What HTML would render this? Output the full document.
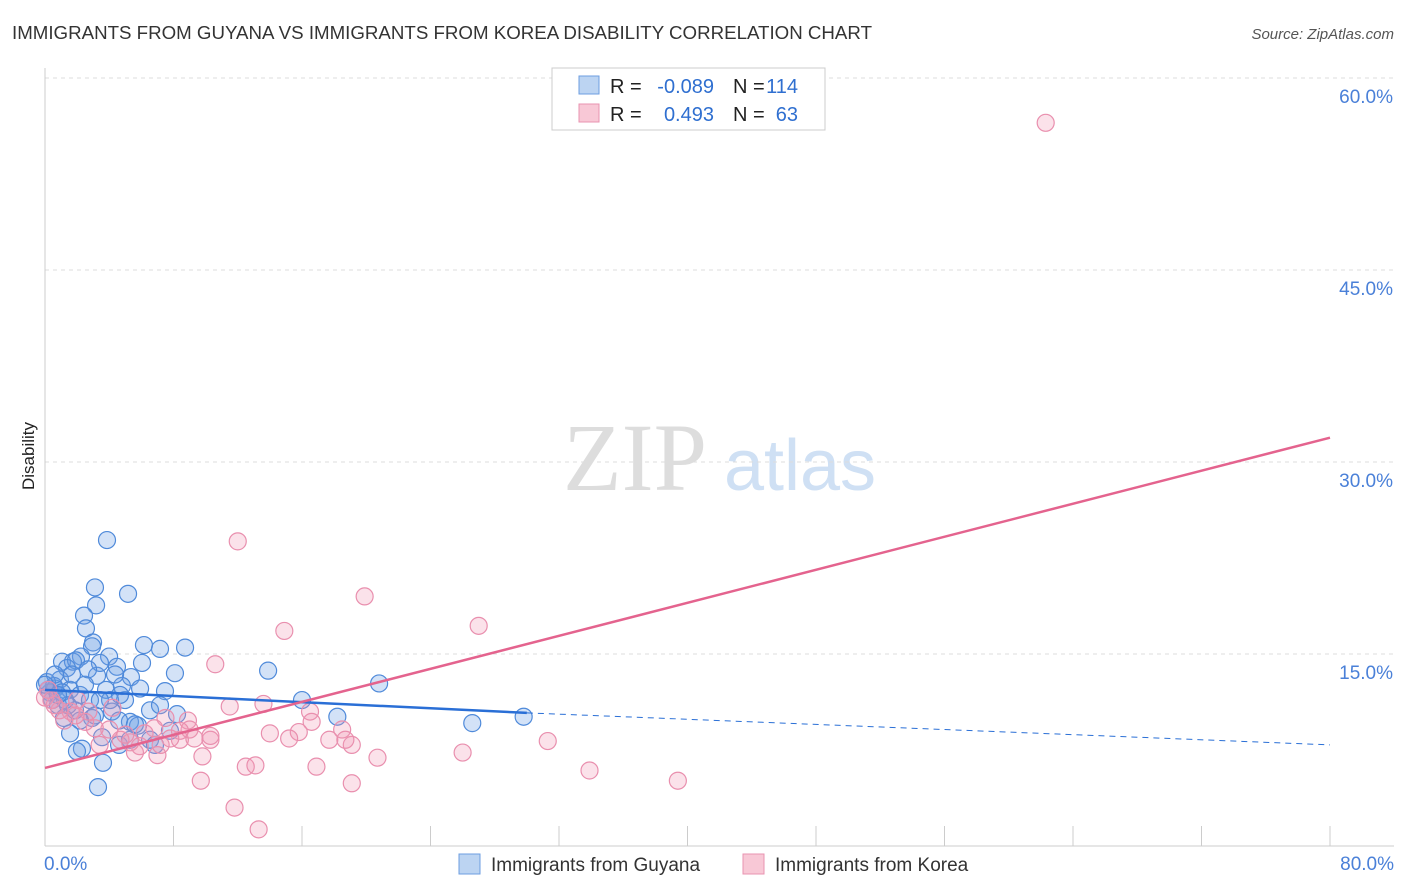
<!DOCTYPE html>
<html><head><meta charset="utf-8"><style>
body{margin:0;background:#fff;font-family:"Liberation Sans",sans-serif;}
svg{display:block}
</style></head><body>
<svg id="chart" width="1406" height="892" xmlns="http://www.w3.org/2000/svg">
<text x="12" y="39" font-size="18" fill="#333" textLength="860" lengthAdjust="spacingAndGlyphs">IMMIGRANTS FROM GUYANA VS IMMIGRANTS FROM KOREA DISABILITY CORRELATION CHART</text>
<text x="1394" y="39" font-size="15" fill="#555" font-style="italic" text-anchor="end">Source: ZipAtlas.com</text>
<text x="0" y="0" transform="translate(34,456) rotate(-90)" font-size="17" fill="#222" text-anchor="middle">Disability</text>
<g><text x="635" y="490" font-size="96" fill="#ddd" font-family="Liberation Serif,serif" text-anchor="middle">ZIP</text><text x="800" y="490" font-size="72" fill="#cfe0f4" text-anchor="middle">atlas</text></g>
<g id="grid"></g><g id="axes"></g><g id="pts"></g><g id="trends"></g>
<g>
<rect x="552" y="68" width="273" height="62" fill="#fff" stroke="#ccc"/>
<rect x="579" y="76" width="20" height="18" fill="#bcd4f2" stroke="#6d9ee0"/>
<rect x="579" y="104" width="20" height="18" fill="#f8c8d6" stroke="#e993b0"/>
<g font-size="20" fill="#222">
<text x="610" y="93">R =</text><text x="714" y="93" text-anchor="end" fill="#2f6fd0">-0.089</text>
<text x="733" y="93">N =</text><text x="798" y="93" text-anchor="end" fill="#2f6fd0">114</text>
<text x="610" y="121">R =</text><text x="714" y="121" text-anchor="end" fill="#2f6fd0">0.493</text>
<text x="733" y="121">N =</text><text x="798" y="121" text-anchor="end" fill="#2f6fd0">63</text>
</g>
</g>
<g>
<rect x="459" y="854" width="21" height="20" fill="#bcd4f2" stroke="#6d9ee0"/>
<text x="491" y="871" font-size="19" fill="#333">Immigrants from Guyana</text>
<rect x="743" y="854" width="21" height="20" fill="#f8c8d6" stroke="#e993b0"/>
<text x="775" y="871" font-size="19" fill="#333">Immigrants from Korea</text>
</g>
</svg>
<script>
const yTicks=[15,30,45,60];
const yTickLabels=["15.0%","30.0%","45.0%","60.0%"];
const xTickLabels=["0.0%","80.0%"];
const guyanaX=[3.86,3.11,3.18,2.43,2.55,5.17,2.99,2.93,6.16,7.16,8.72,2.24,3.99,1.06,1.74,1.93,1.37,4.48,8.09,13.89,6.04,5.35,3.24,4.79,7.47,3.80,0.62,0.93,1.56,2.18,0.31,0.56,0.12,2.80,16.0,20.8,6.54,8.22,4.17,2.93,1.18,5.29,4.61,18.2,26.6,29.8,7.78,3.55,2.30,1.99,4.61,3.61,3.30,6.54,5.79,0.81,1.87,1.25,2.49,4.98,5.92,0.62,3.42,4.36,1.68,0.19,0.44,1.06,1.43,2.68,0.0,0.81,4.05,7.16,3.11,5.29,6.85,2.18,1.56,5.60,4.67,3.42];
const guyanaY=[23.9,20.2,18.8,18.0,17.0,19.7,15.9,15.6,15.7,15.4,15.5,14.8,14.8,14.4,14.4,14.5,13.9,14.0,13.5,13.7,14.3,13.2,13.3,12.5,12.1,12.2,12.3,13.0,12.2,11.8,12.0,12.5,12.8,11.4,11.4,12.7,10.6,10.3,10.5,10.0,10.0,9.7,9.8,10.1,9.6,10.1,9.0,8.5,7.6,7.4,7.9,6.5,4.6,8.3,9.4,11.0,10.6,11.4,12.6,11.4,12.3,13.4,14.3,13.4,13.4,12.2,11.4,12.0,11.0,13.8,12.6,11.8,11.4,11.0,10.2,8.3,7.9,9.8,8.8,9.5,11.8,11.4];
const koreaX=[62.3,12.0,19.9,27.0,14.9,10.6,13.6,16.5,11.5,16.6,15.8,14.0,18.5,19.1,15.2,17.7,18.7,20.7,26.0,31.3,33.9,39.4,12.5,13.1,9.8,16.9,9.7,11.8,19.1,13.3,8.9,7.5,8.4,7.0,5.9,6.8,5.3,4.0,3.1,2.5,1.6,0.9,0.4,0.2,1.2,1.9,3.4,4.7,6.2,10.3,9.0,7.8,0.6,0.0,2.7,10.3,4.2,5.6,5.0,7.2,8.4,9.3,2.0];
const koreaY=[56.5,23.8,19.5,17.2,16.8,14.2,11.1,10.5,10.9,9.7,8.9,8.8,9.1,7.9,8.4,8.3,8.3,6.9,7.3,8.2,5.9,5.1,6.2,6.3,7.0,6.2,5.1,3.0,4.9,1.3,9.8,10.0,8.3,7.1,7.8,9.2,8.1,9.1,9.2,9.7,10.5,10.6,11.4,12.2,9.8,10.2,7.9,8.3,8.8,8.3,9.1,8.4,11.0,11.6,10.5,8.6,10.8,7.3,8.7,7.9,9.0,8.4,11.4];
const guyanaTrend=[12.2,10.4,7.9];
const koreaTrend=[6.1,31.9];
const guyanaTrendX=[0,30,80];
const X=v=>45+v*(1330-45)/80;
const Y=v=>846-v*12.8;
const NS="http://www.w3.org/2000/svg";
function mk(tag,attrs,parent){const e=document.createElementNS(NS,tag);for(const k in attrs)e.setAttribute(k,attrs[k]);document.getElementById(parent).appendChild(e);return e;}
yTicks.forEach((t,i)=>{
 const l=mk('line',{x1:45,x2:1394,y1:Y(t),y2:Y(t),stroke:'#ddd','stroke-dasharray':'4,4'},'grid');
 
 
 const tx=mk('text',{x:1393,y:Y(t)+25,'font-size':19,fill:'#4a80d8','text-anchor':'end'},'grid');
 tx.textContent=yTickLabels[i];
 
 
});
const ax=mk('line',{x1:45,x2:1394,y1:846,y2:846,stroke:'#ccc'},'axes');


const ay=mk('line',{x1:45,x2:45,y1:68,y2:846,stroke:'#ccc'},'axes');


for(let i=1;i<=10;i++){
 const t=mk('line',{x1:X(i*8),x2:X(i*8),y1:826,y2:846,stroke:'#ccc'},'axes');
 
 
}
[[0,'start',44],[80,'end',1394]].forEach((d,i)=>{
 const t=mk('text',{x:d[2],y:870,'font-size':19,fill:'#4a80d8','text-anchor':d[1]},'axes');
 t.textContent=xTickLabels[i];
 
 
});
guyanaX.forEach((x,i)=>{
 const c=mk('circle',{cx:X(x),cy:Y(guyanaY[i]),r:8.5,fill:'rgba(110,160,230,0.3)',stroke:'#4f8ada','stroke-width':1.2},'pts');
 
 
});
koreaX.forEach((x,i)=>{
 const c=mk('circle',{cx:X(x),cy:Y(koreaY[i]),r:8.5,fill:'rgba(240,150,180,0.28)',stroke:'#e98fae','stroke-width':1.2},'pts');
 
 
});
const g1=mk('line',{x1:X(guyanaTrendX[0]),y1:Y(guyanaTrend[0]),x2:X(guyanaTrendX[1]),y2:Y(guyanaTrend[1]),stroke:'#2a6fd6','stroke-width':2.5},'trends');


const g2=mk('line',{x1:X(guyanaTrendX[1]),y1:Y(guyanaTrend[1]),x2:X(guyanaTrendX[2]),y2:Y(guyanaTrend[2]),stroke:'#2a6fd6','stroke-width':1,'stroke-dasharray':'6,5'},'trends');


const k1=mk('line',{x1:X(0),y1:Y(koreaTrend[0]),x2:X(80),y2:Y(koreaTrend[1]),stroke:'#e4638e','stroke-width':2.5},'trends');


</script>
</body></html>
